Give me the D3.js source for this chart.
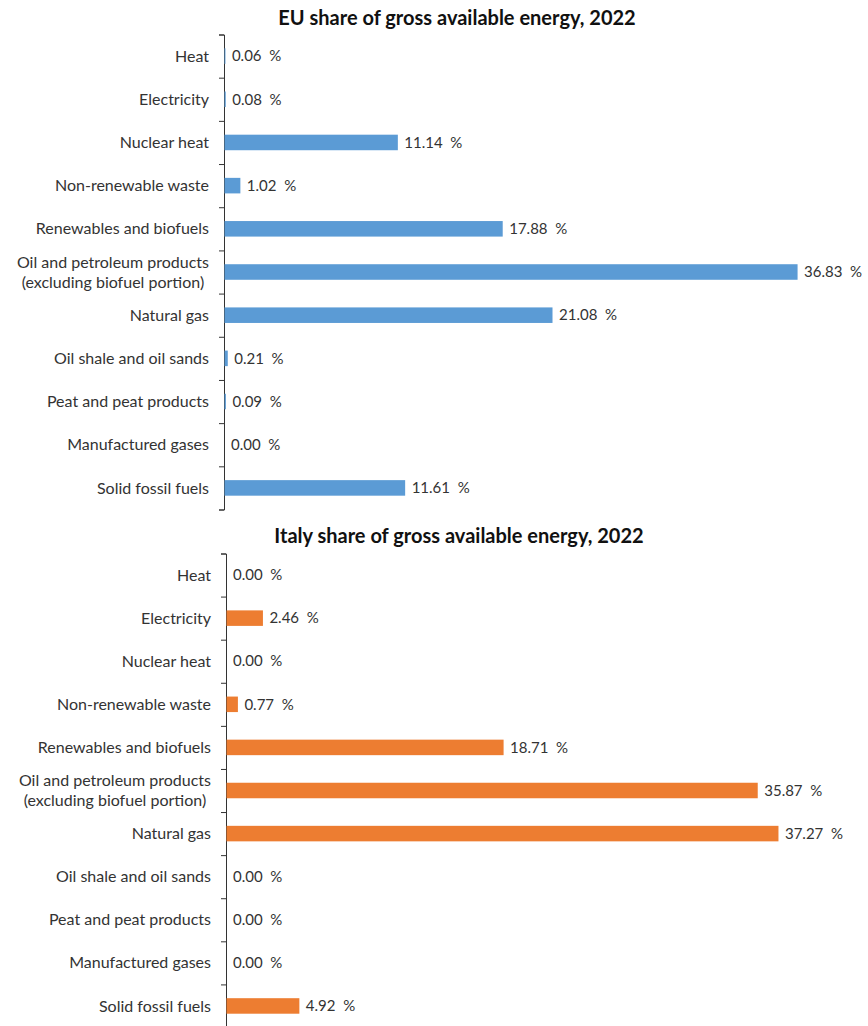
<!DOCTYPE html>
<html>
<head>
<meta charset="utf-8">
<script src="https://cdn.jsdelivr.net/npm/d3@7"></script>
<style>
  body { margin: 0; background: #fff; }
  text { font-family: Lato, "Noto Sans", sans-serif; fill: #333; }
  .title { font-weight: bold; font-size: 20px; fill: #111; }
  .cat { font-size: 16px; }
  .val { font-size: 15px; }
</style>
</head>
<body>
<script>
  const categories = [
    'Heat', 'Electricity', 'Nuclear heat', 'Non-renewable waste',
    'Renewables and biofuels',
    'Oil and petroleum products\n(excluding biofuel portion)',
    'Natural gas', 'Oil shale and oil sands', 'Peat and peat products',
    'Manufactured gases', 'Solid fossil fuels'
  ];
  const euValues = [0.06, 0.08, 11.14, 1.02, 17.88, 36.83, 21.08, 0.21, 0.09, 0.00, 11.61];
  const italyValues = [0.00, 2.46, 0.00, 0.77, 18.71, 35.87, 37.27, 0.00, 0.00, 0.00, 4.92];

  const width = 868;
  const height = 1026;

  const svg = d3.select('body').append('svg')
    .attr('width', width)
    .attr('height', height);

  const panels = [
    { title: 'EU share of gross available energy, 2022', values: euValues, color: '#5B9BD5',
      titleX: 457, titleY: 25, x0: 224, top: 34.5, bottom: 509.5, pxPerUnit: 15.56 },
    { title: 'Italy share of gross available energy, 2022', values: italyValues, color: '#ED7D31',
      titleX: 459, titleY: 543, x0: 226, top: 553.5, bottom: 1027.5, pxPerUnit: 14.81 }
  ];

  panels.forEach((p) => {
    const g = svg.append('g');

    g.append('text')
      .attr('class', 'title')
      .attr('x', p.titleX)
      .attr('y', p.titleY)
      .attr('text-anchor', 'middle')
      .text(p.title);

    const y = d3.scaleBand().domain(categories).range([p.top, p.bottom]).paddingInner(0.64).paddingOuter(0.32);
    const maxV = 40;
    const x = d3.scaleLinear().domain([0, maxV]).range([p.x0, p.x0 + maxV * p.pxPerUnit]);

    // axis: line with ticks at band boundaries
    const edges = d3.scaleLinear().domain([0, categories.length]).range([p.top, p.bottom]);
    g.append('g')
      .attr('transform', `translate(${p.x0},0)`)
      .call(d3.axisLeft(edges).tickValues(d3.range(categories.length + 1)).tickSize(5).tickFormat(''))
      .call((a) => a.selectAll('line, path').attr('stroke', '#333'));

    g.append('g').selectAll('rect')
      .data(p.values)
      .join('rect')
      .attr('x', x(0) + 0.5)
      .attr('y', (d, i) => y(categories[i]))
      .attr('width', (d) => Math.max(0, x(d) - x(0)))
      .attr('height', y.bandwidth())
      .attr('fill', p.color);

    g.append('g').selectAll('text')
      .data(p.values)
      .join('text')
      .attr('class', 'val')
      .attr('x', (d) => x(d) + 7)
      .attr('y', (d, i) => y(categories[i]) + y.bandwidth() / 2)
      .attr('dy', '0.35em')
      .attr('xml:space', 'preserve')
      .text((d) => `${d.toFixed(2)}  %`);

    const labelRight = p.x0 - 15;
    g.append('g').selectAll('text')
      .data(categories)
      .join('text')
      .attr('class', 'cat')
      .attr('y', (d) => y(d) + y.bandwidth() / 2)
      .each(function (d) {
        const lines = d.split('\n');
        const t = d3.select(this);
        if (lines.length === 1) {
          t.attr('x', labelRight).attr('text-anchor', 'end').attr('dy', '0.35em').text(d);
          return;
        }
        // multi-line labels: lines centred on each other, block right-aligned
        const spans = lines.map((line, j) => t.append('tspan')
          .attr('dy', j === 0 ? `${0.35 - (lines.length - 1) * 0.62}em` : '1.24em')
          .text(line));
        const maxW = d3.max(spans, (s) => s.node().getComputedTextLength());
        spans.forEach((s) => s.attr('x', labelRight - maxW / 2).attr('text-anchor', 'middle'));
      });
  });
</script>
</body>
</html>
